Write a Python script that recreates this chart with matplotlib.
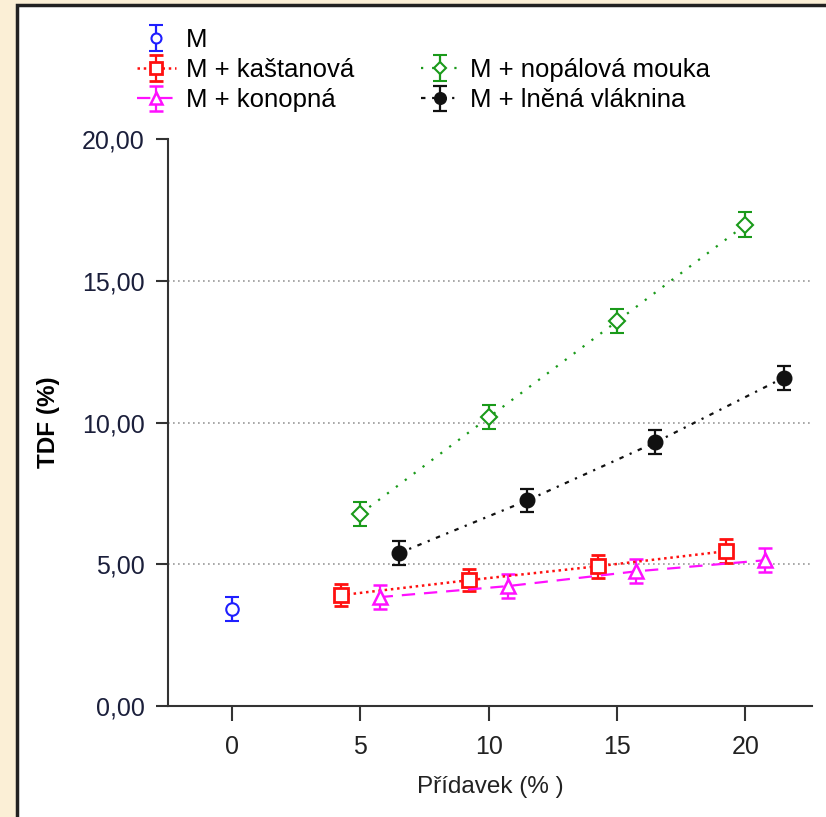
import numpy as np
import matplotlib.pyplot as plt
from matplotlib.patches import Rectangle
from matplotlib.lines import Line2D

plt.rcParams['font.family'] = ['Liberation Sans', 'DejaVu Sans']

# data
pridavek = [5, 10, 15, 20]
m_x = [0]
m_y = [3.42]
m_err = [0.42]
kastanova = [3.91, 4.44, 4.93, 5.46]
kastanova_err = [0.40, 0.40, 0.40, 0.42]
konopna = [3.84, 4.23, 4.75, 5.14]
konopna_err = [0.42, 0.42, 0.42, 0.42]
nopalova = [6.78, 10.18, 13.57, 16.97]
nopalova_err = [0.42, 0.42, 0.42, 0.44]
lnena = [5.39, 7.25, 9.30, 11.58]
lnena_err = [0.42, 0.42, 0.42, 0.42]
y_ticks = [0, 5, 10, 15, 20]
x_ticks = [0, 5, 10, 15, 20]

# horizontal dodge of the groups
dodge = {'kas': -0.75, 'kon': 0.75, 'nop': 0.0, 'lne': 1.5}

fig = plt.figure(figsize=(8.26, 8.17), dpi=100)
fig.patch.set_facecolor('#fbefd6')
fig.patches.append(Rectangle((17 / 826, -0.01), 1.0, 1.01 - 5 / 817,
                             transform=fig.transFigure, facecolor='white',
                             edgecolor='#222222', lw=2.5, zorder=-10))

ax = fig.add_axes([168 / 826, 1 - 706 / 817, (812 - 168) / 826, (706 - 139) / 817])
ax.set_facecolor('none')

for yv in y_ticks[1:-1]:
    ax.axhline(yv, color='#999999', ls=(0, (1, 2)), lw=1.2, zorder=1)

ekw = dict(capsize=5, elinewidth=1.6, capthick=1.6, zorder=3)
x = np.array(pridavek, dtype=float)

h_m = ax.errorbar(m_x, m_y, yerr=m_err, color='#1f1fff', marker='o', ls='none',
                  mfc='white', mew=1.5, markersize=9, **ekw)
h_kas = ax.errorbar(x + dodge['kas'], kastanova, yerr=kastanova_err, color='#ff1010',
                    marker='s', ls=(0, (1, 1.5)), lw=1.8, mfc='white', mew=2,
                    markersize=10, **ekw)
h_kon = ax.errorbar(x + dodge['kon'], konopna, yerr=konopna_err, color='#ff10ff',
                    marker='^', ls=(0, (6, 4)), lw=1.6, mfc='white', mew=1.8,
                    markersize=10, **ekw)
h_nop = ax.errorbar(x + dodge['nop'], nopalova, yerr=nopalova_err, color='#1a9a1a',
                    marker='D', ls=(0, (1, 4)), lw=1.6, mfc='white', mew=1.5,
                    markersize=8, **ekw)
h_lne = ax.errorbar(x + dodge['lne'], lnena, yerr=lnena_err, color='#111111',
                    marker='o', ls=(0, (2, 3, 1, 3)), lw=1.6, mfc='#111111',
                    markersize=10.5, **ekw)

ax.set_xlim(-2.5, 22.6)
ax.set_ylim(0, 20)
ax.set_xticks(x_ticks)
ax.set_yticks(y_ticks)
ax.set_yticklabels([f'{v:.2f}'.replace('.', ',') for v in y_ticks])
for s in ['top', 'right']:
    ax.spines[s].set_visible(False)
ax.spines['left'].set_color('#333333')
ax.spines['bottom'].set_color('#333333')
ax.spines['left'].set_linewidth(1.5)
ax.spines['bottom'].set_linewidth(1.5)
ax.tick_params(axis='y', length=9, width=1.5, color='#333333', pad=8,
               labelsize=18, labelcolor='#1b1f3b')
ax.tick_params(axis='x', length=11, width=1.5, color='#333333', pad=10,
               labelsize=18, labelcolor='#222222')

ax.set_xlabel('Přídavek (% )', fontsize=17.5, color='#222222', labelpad=12)
fig.text(49 / 826, 1 - 422 / 817, 'TDF (%)', rotation=90, fontsize=17.5,
         fontweight='bold', ha='center', va='center')

blank = Line2D([], [], ls='none')
leg = fig.legend([h_m, h_kas, h_kon, blank, h_nop, h_lne],
                 ['M', 'M + kaštanová', 'M + konopná', '', 'M + nopálová mouka',
                  'M + lněná vláknina'],
                 ncol=2, loc='upper left', bbox_to_anchor=(114 / 826, 1 - 5 / 817),
                 frameon=False, fontsize=18.5, labelspacing=0.24, columnspacing=2.6,
                 handlelength=1.5, handletextpad=0.4, markerscale=0.8)

fig.savefig('out.png', dpi=100)
